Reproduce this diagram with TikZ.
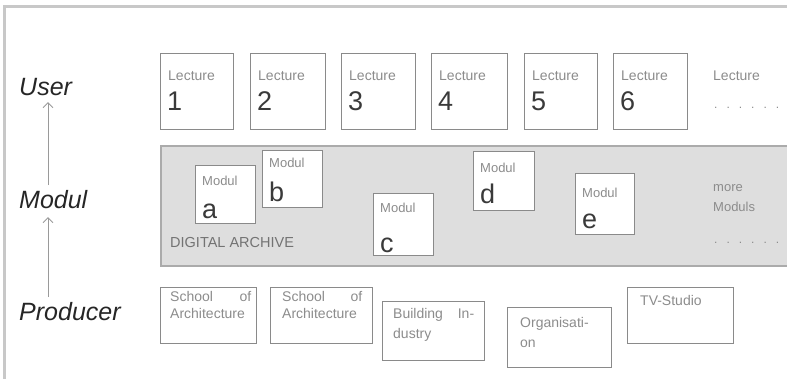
\documentclass[tikz,border=0pt]{standalone}
\usepackage{fontspec}
\setmainfont{Liberation Sans}
\usetikzlibrary{calc,arrows.meta}
\definecolor{framegray}{HTML}{C8C8C8}
\definecolor{boxgray}{HTML}{8A8A8A}
\definecolor{bandfill}{HTML}{DEDEDE}
\definecolor{bandline}{HTML}{ABABAB}
\definecolor{smallgray}{HTML}{8C8C8C}
\definecolor{biggray}{HTML}{3A3A3A}
\definecolor{arrowgray}{HTML}{9A9A9A}
\tikzset{
  box/.style={draw=boxgray, line width=1.4pt, fill=white, anchor=north west, inner sep=0pt},
  small/.style={font=\fontsize{14}{16}\selectfont, text=smallgray, inner sep=0pt, anchor=base west},
  big/.style={font=\fontsize{27}{29}\selectfont, text=biggray, inner sep=0pt, anchor=base west},
  level/.style={font=\fontsize{25}{27}\selectfont\itshape, text=black!85, inner sep=0pt, anchor=base west},
  uparrow/.style={draw=arrowgray, line width=1pt, -{Straight Barb[length=5pt,width=10pt]}},
  dots/.style={font=\fontsize{12}{14}\selectfont, text=smallgray, inner sep=0pt, anchor=base west}
}
\begin{document}
\begin{tikzpicture}[x=1pt,y=-1pt]
\useasboundingbox (0,0) rectangle (787,378);
\clip (0,0) rectangle (787,378);
% outer frame
\draw[framegray, line width=3pt] (4,400) -- (4,6) -- (800,6);

% level labels
\node[level] (user) at (19,95) {User};
\node[level] (modul) at (19,208) {Modul};
\node[level] (producer) at (19,320) {Producer};
\coordinate (ubot) at (48,102);
\coordinate (mtop) at (48,185);
\coordinate (mbot) at (48,217);
\coordinate (ptop) at (48,297);
\draw[uparrow] (mtop) -- (ubot);
\draw[uparrow] (ptop) -- (mbot);

% digital archive band
\node[draw=bandline, fill=bandfill, line width=2pt, anchor=north west, inner sep=0pt,
      minimum width=660pt, minimum height=120pt] (archive) at (160,145) {};
\node[font=\fontsize{14.5}{16}\selectfont, text=black!55, inner sep=0pt, anchor=base west]
  (archlabel) at (170,247) {DIGITAL ARCHIVE};

% lectures
\foreach \n/\x/\w in {1/160/73, 2/250/75, 3/341/74, 4/431/76, 5/524/73, 6/613/74}{
  \node[box, minimum width=\w pt, minimum height=76pt] (lec\n) at (\x,53) {};
  \node[small] (lec\n t) at ($(lec\n.north west)+(8,27)$) {Lecture};
  \node[big] (lec\n n) at ($(lec\n.north west)+(7,57)$) {\n};
}
\node[small] (lec7t) at (713,80) {Lecture};
\node[dots] (lec7d) at (714,108) {.\hspace{9pt}.\hspace{9pt}.\hspace{9pt}.\hspace{9pt}.\hspace{9pt}.};

% moduls
\foreach \m/\x/\y/\w/\h/\a/\b in {a/195/165/60/58/20/53, b/262/150/60/57/17/51, c/373/193/60/62/19/59, d/473/151/61/59/21/52, e/575/173/59/61/24/55}{
  \node[box, minimum width=\w pt, minimum height=\h pt] (mod\m) at (\x,\y) {};
  \node[small, font=\fontsize{13}{15}\selectfont] (mod\m t) at ($(mod\m.north west)+(7,\a)$) {Modul};
  \node[big] (mod\m n) at ($(mod\m.north west)+(7,\b)$) {\m};
}
\node[small, font=\fontsize{13}{15}\selectfont] (more1) at (713,191) {more};
\node[small, font=\fontsize{13}{15}\selectfont] (more2) at (713,211) {Moduls};
\node[dots] (mored) at (714,243) {.\hspace{9pt}.\hspace{9pt}.\hspace{9pt}.\hspace{9pt}.\hspace{9pt}.};

% producers
\node[box, minimum width=96pt, minimum height=56pt] (soa1) at (160,287) {};
\node[box, minimum width=102pt, minimum height=56pt] (soa2) at (270,287) {};
\node[box, minimum width=102pt, minimum height=59pt] (build) at (382,301) {};
\node[box, minimum width=104pt, minimum height=60pt] (org) at (507,307) {};
\node[box, minimum width=106pt, minimum height=56pt] (tv) at (627,287) {};

\node[small] (soa1a) at ($(soa1.north west)+(10,14)$) {\makebox[81pt][s]{School of}};
\node[small] (soa1b) at ($(soa1.north west)+(10,31)$) {Architecture};
\node[small] (soa2a) at ($(soa2.north west)+(12,14)$) {\makebox[80pt][s]{School of}};
\node[small] (soa2b) at ($(soa2.north west)+(12,31)$) {Architecture};
\node[small] (builda) at ($(build.north west)+(11,17)$) {\makebox[81pt][s]{Building In-}};
\node[small] (buildb) at ($(build.north west)+(11,37)$) {dustry};
\node[small] (orga) at ($(org.north west)+(13,20)$) {Organisati-};
\node[small] (orgb) at ($(org.north west)+(13,40)$) {on};
\node[small] (tva) at ($(tv.north west)+(13,18)$) {TV-Studio};
\end{tikzpicture}
\end{document}
